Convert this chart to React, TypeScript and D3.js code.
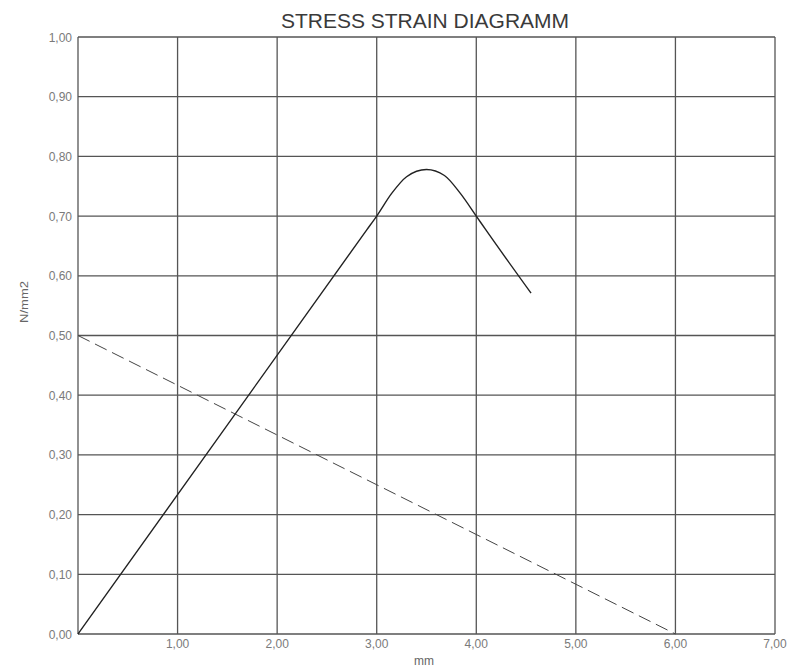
import * as d3 from "d3";

// stress-strain curve (mm, N/mm2)
const strainX = [0, 2.9, 3.0, 3.15, 3.3, 3.5, 3.68, 3.84, 4.0, 4.1, 4.55];
const stressY = [0, 0.677, 0.7, 0.738, 0.766, 0.778, 0.768, 0.738, 0.7, 0.676, 0.571];

// dashed reference line
const refX = [0, 6];
const refY = [0.5, 0];

const xTicks = [1, 2, 3, 4, 5, 6, 7];
const yTicks = [0, 0.1, 0.2, 0.3, 0.4, 0.5, 0.6, 0.7, 0.8, 0.9, 1.0];

const W = 789;
const H = 668;
const margin = { top: 37, right: 14, bottom: 34, left: 78 };

const fmt = (v: number) => v.toFixed(2).replace(".", ",");

export default function App() {
  const x = d3.scaleLinear().domain([0, 7]).range([margin.left, W - margin.right]);
  const y = d3.scaleLinear().domain([0, 1]).range([H - margin.bottom, margin.top]);

  const line = d3
    .line<number>()
    .x((_, i) => x(strainX[i]))
    .y((d) => y(d))
    .curve(d3.curveMonotoneX);
  const refLine = d3
    .line<number>()
    .x((_, i) => x(refX[i]))
    .y((d) => y(d));

  const grid = "#555";
  const label = "#7a7a7a";

  return (
    <svg
      width={W}
      height={H}
      style={{ position: "absolute", left: 0, top: 0, background: "#fff" }}
      fontFamily="Liberation Sans, Arial, sans-serif"
    >
      <text x={425} y={28} textAnchor="middle" fontSize={21} fill="#3a3a3a">
        STRESS STRAIN DIAGRAMM
      </text>

      {/* grid */}
      {yTicks.map((t) => (
        <g key={"y" + t}>
          <line x1={x(0)} x2={x(7)} y1={y(t)} y2={y(t)} stroke={grid} strokeWidth={1.3} />
          <text x={x(0) - 6} y={y(t) + 4.5} textAnchor="end" fontSize={12} fill={label}>
            {fmt(t)}
          </text>
        </g>
      ))}
      <line x1={x(0)} x2={x(0)} y1={y(0)} y2={y(1)} stroke={grid} strokeWidth={1.3} />
      {xTicks.map((t) => (
        <g key={"x" + t}>
          <line x1={x(t)} x2={x(t)} y1={y(0)} y2={y(1)} stroke={grid} strokeWidth={1.3} />
          <text x={x(t)} y={y(0) + 14} textAnchor="middle" fontSize={12} fill={label}>
            {fmt(t)}
          </text>
        </g>
      ))}

      <text x={424} y={665} textAnchor="middle" fontSize={12} fill="#666">
        mm
      </text>
      <text
        transform={`translate(28,302) rotate(-90)`}
        textAnchor="middle"
        fontSize={11}
        fill="#666"
        textLength={42}
        lengthAdjust="spacingAndGlyphs"
      >
        N/mm2
      </text>

      <path d={refLine(refY) ?? undefined} fill="none" stroke="#444" strokeWidth={1} strokeDasharray="13,6" />
      <path d={line(stressY) ?? undefined} fill="none" stroke="#222" strokeWidth={1.4} strokeLinejoin="round" />
    </svg>
  );
}
